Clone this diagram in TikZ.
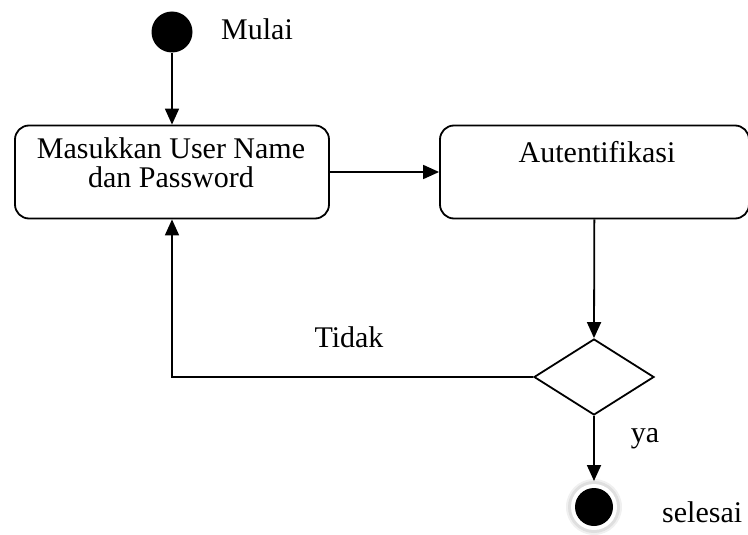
\documentclass[tikz,border=0pt]{standalone}
\usepackage{fontspec}
\setmainfont{Liberation Serif}
\usetikzlibrary{arrows.meta,shapes.geometric}
\begin{document}
\begin{tikzpicture}[x=1pt,y=-1pt,
  every node/.style={font=\fontsize{30}{29.5}\selectfont},
  lbl/.style={anchor=base,inner sep=0pt},
  flow/.style={line width=1.8pt,-{Triangle[length=16pt,width=14pt]}},
  actbox/.style={draw,line width=1.8pt,rounded corners=14pt,minimum width=314pt,minimum height=93pt,inner sep=0pt},
  decision/.style={draw,line width=1.8pt,diamond,minimum width=120pt,minimum height=76pt,inner sep=0pt},
  startdot/.style={circle,fill=black,minimum size=41pt,inner sep=0pt},
  enddot/.style={circle,fill=black,minimum size=38pt,inner sep=0pt}]
\useasboundingbox (0,0) rectangle (748,535);
% start point
\node[startdot] (start) at (172,32) {};
\node[lbl,anchor=base west] (mulai) at (221,40) {Mulai};
% activity boxes
\node[actbox] (input) at (172,172) {};
\node[inner sep=0pt,anchor=north,align=center] (inputtxt) at (171,137)
  {Masukkan User Name\\dan Password};
\node[actbox,minimum width=309pt] (auth) at (594.5,172) {};
\node[lbl] (authtxt) at (597,163) {Autentifikasi};
% decision
\node[decision] (dec) at (594,377) {};
\node[lbl] (tidak) at (349,347) {Tidak};
\node[lbl] (ya) at (645,442) {ya};
% end point with a soft grey ring
\fill[gray!12] (594,507) circle (28pt);
\fill[gray!25] (594,507) circle (26pt);
\fill[white] (594,507) circle (23pt);
\node[enddot] (stop) at (594,507) {};
\node[lbl,anchor=base west] (selesai) at (662,522) {selesai};
% connectors
\draw[flow] (start) -- (input);
\draw[flow] (input) -- (auth);
\draw[flow] (auth) -- (dec.north);
\draw[flow] (dec.west) -| (input.south);
\coordinate (ring) at (594,481);
\draw[flow] (dec.south) -- (ring);
\end{tikzpicture}
\end{document}
